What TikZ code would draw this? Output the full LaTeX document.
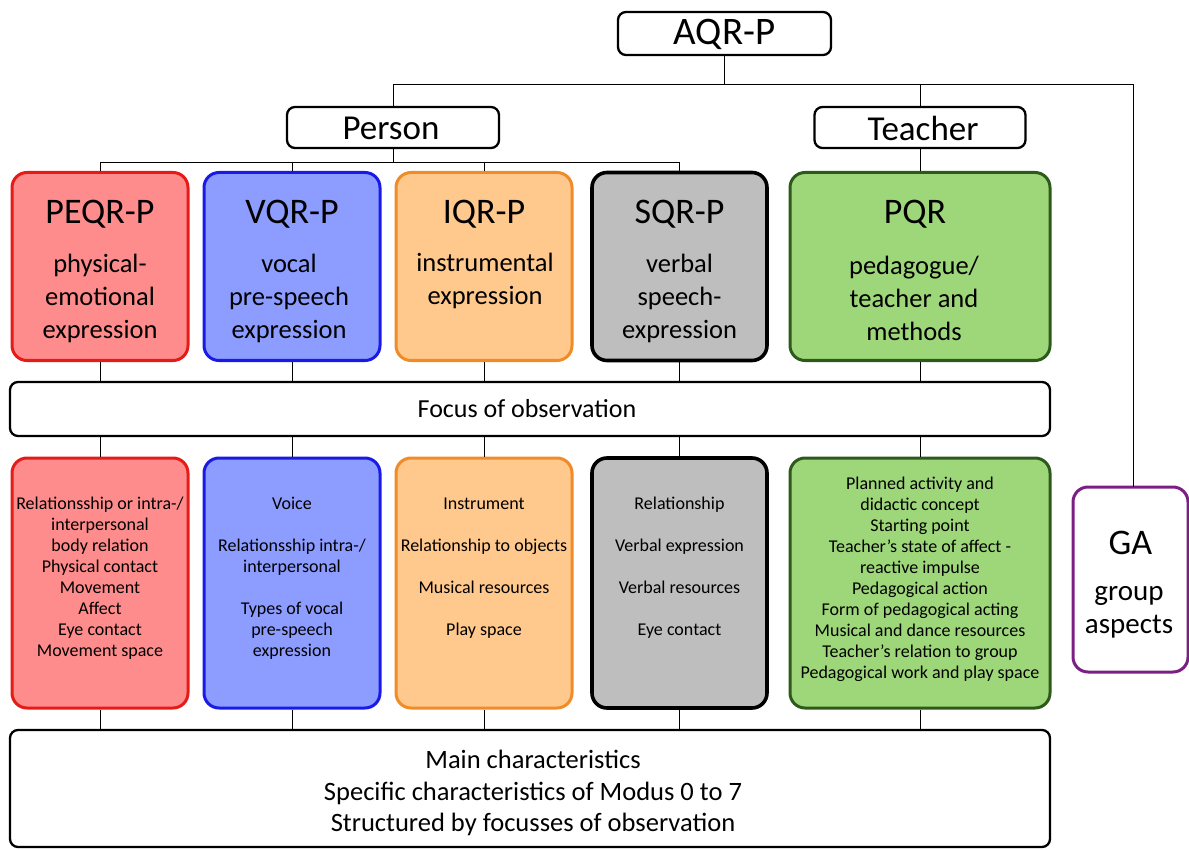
\documentclass[tikz,border=0pt]{standalone}
\usepackage{fontspec}
\setmainfont{Carlito}
\definecolor{peqrF}{HTML}{FF8C8C}\definecolor{peqrD}{HTML}{E41B17}
\definecolor{vqrF}{HTML}{8C9CFF}\definecolor{vqrD}{HTML}{1A1AE6}
\definecolor{iqrF}{HTML}{FFC88C}\definecolor{iqrD}{HTML}{F08C28}
\definecolor{sqrF}{HTML}{BEBEBE}\definecolor{sqrD}{HTML}{000000}
\definecolor{pqrF}{HTML}{9ED77A}\definecolor{pqrD}{HTML}{2D5A1A}
\definecolor{gaD}{HTML}{7B1F85}
\tikzset{
  hbox/.style={draw=black, line width=2.3pt, rounded corners=8pt, fill=white, inner sep=0pt},
  cbox/.style={line width=3pt, rounded corners=15pt, inner sep=0pt},
  conn/.style={line width=0.9pt, black},
  ttl/.style={font=\fontsize{36}{40}\selectfont, inner sep=0pt},
  hdr/.style={font=\fontsize{35}{38}\selectfont, inner sep=0pt},
  sub/.style={font=\fontsize{26.5}{33}\selectfont, align=center, inner sep=0pt},
  small/.style={font=\fontsize{18}{21}\selectfont, align=center, inner sep=0pt},
  mid/.style={font=\fontsize{26.5}{31.5}\selectfont, align=center, inner sep=0pt},
}
\begin{document}
\begin{tikzpicture}[x=1pt,y=-1pt]
\useasboundingbox (0,0) rectangle (1189,850);
% header boxes
\node[hbox, minimum width=213pt, minimum height=43pt] (aqr) at (724.5,33.5) {};
\node[font=\fontsize{39}{42}\selectfont, inner sep=0pt] (aqrT) at (724.5,34) {AQR-P};
\node[hbox, minimum width=212pt, minimum height=41pt] (person) at (393,127.5) {};
\node[hdr] (personT) at (391,128) {Person};
\node[hbox, minimum width=211pt, minimum height=41pt] (teacher) at (920,127.5) {};
\node[hdr] (teacherT) at (923,128) {Teacher};
% top coloured boxes
\node[cbox, draw=peqrD, fill=peqrF, minimum width=176pt, minimum height=188pt] (peqr) at (100,266.5) {};
\node[cbox, draw=vqrD, fill=vqrF, minimum width=176pt, minimum height=188pt] (vqr) at (292,266.5) {};
\node[cbox, draw=iqrD, fill=iqrF, minimum width=176pt, minimum height=188pt] (iqr) at (484,266.5) {};
\node[cbox, draw=sqrD, fill=sqrF, line width=3.6pt, minimum width=175pt, minimum height=188pt] (sqr) at (679.5,266.5) {};
\node[cbox, draw=pqrD, fill=pqrF, minimum width=260pt, minimum height=188pt] (pqr) at (920,266.5) {};
\node[ttl] (peqrT) at (100,214) {PEQR-P};
\node[ttl] (vqrT) at (292,214) {VQR-P};
\node[ttl] (iqrT) at (484,214) {IQR-P};
\node[ttl] (sqrT) at (679.5,214) {SQR-P};
\node[ttl] (pqrT) at (915,214) {PQR};
\node[sub] (peqrS) at (100,298) {physical-\\emotional\\expression};
\node[sub] (vqrS) at (289,298) {vocal\\pre-speech\\expression};
\node[sub] (iqrS) at (485,281) {instrumental\\expression};
\node[sub] (sqrS) at (679.5,298) {verbal\\speech-\\expression};
\node[sub] (pqrS) at (914,298) {pedagogue/\\teacher and\\methods};
% focus
\node[hbox, minimum width=1040pt, minimum height=54pt] (focus) at (530,409) {};
\node[font=\fontsize{26}{30}\selectfont, inner sep=0pt] (focusT) at (527,409) {Focus of observation};
% bottom coloured boxes
\node[cbox, draw=peqrD, fill=peqrF, minimum width=176pt, minimum height=250pt] (peqrB) at (100,583) {};
\node[cbox, draw=vqrD, fill=vqrF, minimum width=176pt, minimum height=250pt] (vqrB) at (292,583) {};
\node[cbox, draw=iqrD, fill=iqrF, minimum width=176pt, minimum height=250pt] (iqrB) at (484,583) {};
\node[cbox, draw=sqrD, fill=sqrF, line width=3.6pt, minimum width=175pt, minimum height=250pt] (sqrB) at (679.5,583) {};
\node[cbox, draw=pqrD, fill=pqrF, minimum width=260pt, minimum height=250pt] (pqrB) at (920,583) {};
\node[small] (peqrL) at (100,578.5) {Relationsship or intra-/\\interpersonal\\body relation\\Physical contact\\Movement\\Affect\\Eye contact\\Movement space};
\node[small] (vqrL) at (292,578.5) {Voice\\[21pt]Relationsship intra-/\\interpersonal\\[21pt]Types of vocal\\pre-speech\\expression};
\node[small] (iqrL) at (484,568) {Instrument\\[21pt]Relationship to objects\\[21pt]Musical resources\\[21pt]Play space};
\node[small] (sqrL) at (679.5,568) {Relationship\\[21pt]Verbal expression\\[21pt]Verbal resources\\[21pt]Eye contact};
\node[small] (pqrL) at (920,579) {Planned activity and\\didactic concept\\Starting point\\Teacher’s state of affect -\\reactive impulse\\Pedagogical action\\Form of pedagogical acting\\Musical and dance resources\\Teacher’s relation to group\\Pedagogical work and play space};
% GA
\node[cbox, draw=gaD, fill=white, minimum width=115pt, minimum height=185pt] (ga) at (1130.5,579.5) {};
\node[ttl] (gaT) at (1130.5,543) {GA};
\node[font=\fontsize{29}{33}\selectfont, align=center, inner sep=0pt] (gaS) at (1129,612) {group\\aspects};
% main
\node[hbox, minimum width=1040pt, minimum height=117pt] (main) at (530,788.5) {};
\node[mid] (mainT) at (533,793) {Main characteristics\\Specific characteristics of Modus 0 to 7\\Structured by focusses of observation};
% connectors
\coordinate (bus1) at (724.5,84);
\coordinate (bus2) at (393,162);
\draw[conn] (aqr.south) -- (aqr.south |- bus1);
\draw[conn] (person.north) -- (person.north |- bus1) -- (1133,84) -- (1133,487);
\draw[conn] (teacher.north) -- (teacher.north |- bus1);
\draw[conn] (person.south) -- (bus2);
\draw[conn] (peqr.north) -- (peqr.north |- bus2) -- (sqr.north |- bus2) -- (sqr.north);
\draw[conn] (vqr.north) -- (vqr.north |- bus2);
\draw[conn] (iqr.north) -- (iqr.north |- bus2);
\draw[conn] (teacher.south) -- (pqr.north);
\foreach \n in {peqr,vqr,iqr,sqr,pqr}{
  \draw[conn] (\n.south) -- (\n.south |- focus.north);
  \draw[conn] (\n.south |- focus.south) -- (\n B.north);
  \draw[conn] (\n B.south) -- (\n B.south |- main.north);
}
\end{tikzpicture}
\end{document}
